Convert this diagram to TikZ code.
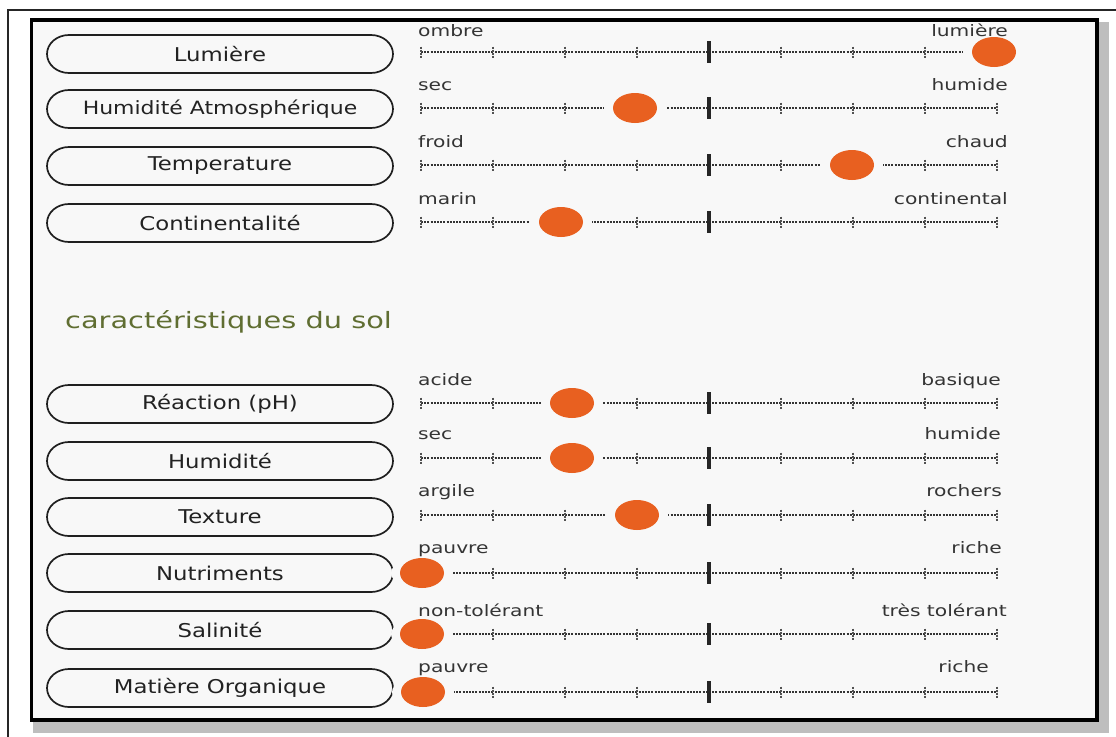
\documentclass[tikz,border=0pt]{standalone}
\usepackage{fontspec}
\setmainfont[FakeStretch=1.2]{DejaVu Sans}
\newfontfamily\widefont[FakeStretch=1.28]{DejaVu Sans}
\usetikzlibrary{shapes.geometric}

\definecolor{boxbg}{RGB}{248,248,248}
\definecolor{dotorange}{RGB}{232,96,32}
\definecolor{soilgreen}{RGB}{96,110,50}
\definecolor{ink}{RGB}{34,34,34}
\definecolor{scaleink}{RGB}{52,52,52}
\definecolor{shadowgray}{RGB}{190,190,190}

\begin{document}
\begin{tikzpicture}[x=1pt,y=-1pt,
  pill/.style={minimum width=346pt, minimum height=38pt, inner sep=0pt, text=ink},
  pillline/.style={draw=ink!90!black, line width=1.7pt, fill=boxbg},
  endlabel/.style={inner sep=0pt, text=scaleink, font=\widefont\fontsize{15.8}{17}\selectfont},
  scaleline/.style={draw=scaleink, line width=1.2pt, dash pattern=on 2pt off 1.2pt},
  minortick/.style={draw=scaleink!85, line width=1.8pt, dash pattern=on 2pt off 1pt},
  majortick/.style={draw=black!85, line width=3.6pt},
  gapmask/.style={fill=boxbg},
  marker/.style={ellipse, fill=dotorange, minimum width=44pt, minimum height=30pt, inner sep=0pt},
  title/.style={inner sep=0pt, text=soilgreen, font=\widefont\fontsize{22.5}{24}\selectfont}]

\useasboundingbox (0,0) rectangle (1116,736);
\fill[white] (0,0) rectangle (1116,736);

% page frame, open to the right and bottom
\draw[line width=1.5pt, black!85] (8,740) -- (8,10) -- (1120,10);

% drop shadow and main panel
\fill[shadowgray] (33,22) rectangle (1109,733);
\draw[line width=3.8pt, fill=boxbg] (31.5,20.3) rectangle (1096.7,720.3);

% rows: scale y / pill y / label lift / font size / name / low end / high end / right edge of high label / marker x
\foreach \sy/\py/\ly/\fs/\nm/\lo/\hi/\hx/\dx [count=\k] in {
   52/54/15.5/19/{Lumière}/{ombre}/{lumière}/1008/994,
   108/109/18/18.3/{Humidité Atmosphérique}/{sec}/{humide}/1008/635,
   165/166/18/19/{Temperature}/{froid}/{chaud}/1008/852,
   222/223/18/19/{Continentalité}/{marin}/{continental}/1008/561,
   403/404/18/19/{Réaction (pH)}/{acide}/{basique}/1001/572,
   458/461/19/19/{Humidité}/{sec}/{humide}/1001/572,
   515/517/19/19/{Texture}/{argile}/{rochers}/1002/637,
   573/573/20/19/{Nutriments}/{pauvre}/{riche}/1002/422,
   634/630/18/19/{Salinité}/{non-tolérant}/{très tolérant}/1007/422,
   692/688/20/19/{Matière Organique}/{pauvre}/{riche}/989/423}{
  % capsule outline with elliptical ends
  \draw[pillline] (69,\py-19) -- (371,\py-19)
     arc[start angle=-90, end angle=90, x radius=22, y radius=19]
     -- (69,\py+19)
     arc[start angle=90, end angle=270, x radius=22, y radius=19] -- cycle;
  \node[pill, font=\fontsize{\fs}{\fs}\selectfont] (pill\k) at (220,\py) {\nm};
  % graduated scale
  \coordinate (sa\k) at (421,\sy);
  \coordinate (sb\k) at (997,\sy);
  \draw[scaleline] (sa\k) -- (sb\k);
  \foreach \i in {0,1,2,3,5,6,7,8}
    \draw[minortick] ([xshift=\i*72pt]sa\k) ++(0,-5.5) -- ++(0,11);
  \draw[majortick] ([xshift=288pt]sa\k) ++(0,-11) -- ++(0,22);
  % marker with a clear gap in the scale around it
  \fill[gapmask] (\dx,\sy) ellipse [x radius=31, y radius=16];
  \node[marker] (dot\k) at (\dx,\sy) {};
  \node[endlabel, anchor=base west] (lo\k) at (418,\sy-\ly) {\lo};
  \node[endlabel, anchor=base east] (hi\k) at (\hx,\sy-\ly) {\hi};
}

\node[title, anchor=base west] (soiltitle) at (65,328) {caractéristiques du sol};

\end{tikzpicture}
\end{document}
